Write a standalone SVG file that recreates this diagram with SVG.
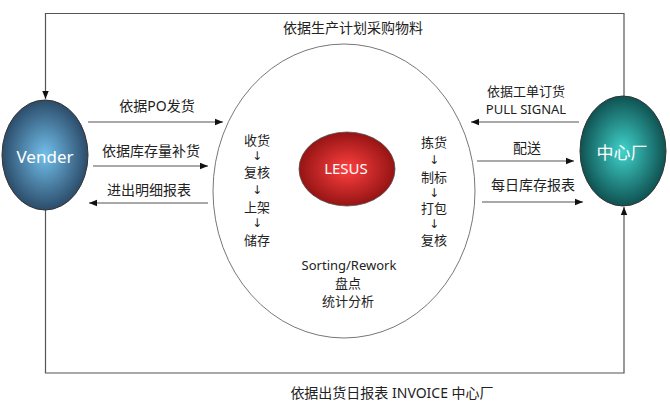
<svg xmlns="http://www.w3.org/2000/svg" width="670" height="406" viewBox="0 0 670 406">
<style>
.t{font-family:"Noto Sans","Noto Sans CJK SC",sans-serif;font-size:14px;fill:#222;text-anchor:middle;dominant-baseline:central}
.s{font-size:13px}
.a{font-family:"DejaVu Sans",sans-serif;font-size:12px;fill:#222}
.w{fill:#fff}
.ln{stroke:#555;stroke-width:1.2;fill:none}
</style>
<defs>
<marker id="ah" viewBox="0 0 10 10" refX="10" refY="5" markerWidth="8" markerHeight="8" markerUnits="userSpaceOnUse" orient="auto">
<path d="M0,1 L10,5 L0,9 Z" fill="#111"/>
</marker>
<radialGradient id="gV" cx="50%" cy="50%" r="50%">
<stop offset="0" stop-color="#72c0ec"/>
<stop offset="1" stop-color="#2c4c6a"/>
</radialGradient>
<radialGradient id="gC" cx="50%" cy="50%" r="50%">
<stop offset="0" stop-color="#40d4cc"/>
<stop offset="1" stop-color="#0f5252"/>
</radialGradient>
<radialGradient id="gL" cx="50%" cy="50%" r="50%">
<stop offset="0" stop-color="#ff4040"/>
<stop offset="1" stop-color="#961414"/>
</radialGradient>
</defs>
<g id="connectors">
<path class="ln" d="M624,96 V13.5 H45.5 V99" marker-end="url(#ah)"/>
<path class="ln" d="M45.5,210 V373 H624 V207" marker-end="url(#ah)"/>
<line class="ln" x1="88" y1="122" x2="223" y2="122" marker-end="url(#ah)"/>
<line class="ln" x1="93" y1="166" x2="208" y2="166" marker-end="url(#ah)"/>
<line class="ln" x1="208" y1="203" x2="89" y2="203" marker-end="url(#ah)"/>
<line class="ln" x1="579" y1="122" x2="471" y2="122" marker-end="url(#ah)"/>
<line class="ln" x1="477" y1="161" x2="574" y2="161" marker-end="url(#ah)"/>
<line class="ln" x1="482" y1="202" x2="583" y2="202" marker-end="url(#ah)"/>
<text class="t" x="353" y="27">依据生产计划采购物料</text>
<text class="t" x="392" y="392">依据出货日报表 INVOICE 中心厂</text>
<text class="t" x="157" y="105">依据PO发货</text>
<text class="t" x="151" y="150">依据库存量补货</text>
<text class="t" x="149" y="189">进出明细报表</text>
<text class="t s" x="526" y="91">依据工单订货</text>
<text class="t s" x="526" y="109">PULL SIGNAL</text>
<text class="t" x="527" y="147">配送</text>
<text class="t" x="533" y="184">每日库存报表</text>
</g>
<g id="lesus-center">
<ellipse cx="344" cy="191" rx="131" ry="147" fill="#fff" stroke="#777" stroke-width="1"/>
<text class="t s" x="257" y="140">收货</text>
<text class="t a" x="257" y="156">↓︎</text>
<text class="t s" x="257" y="172">复核</text>
<text class="t a" x="257" y="190">↓︎</text>
<text class="t s" x="257" y="207">上架</text>
<text class="t a" x="257" y="223">↓︎</text>
<text class="t s" x="257" y="240">储存</text>
<text class="t s" x="434" y="142">拣货</text>
<text class="t a" x="434" y="160">↓︎</text>
<text class="t s" x="434" y="177">制标</text>
<text class="t a" x="434" y="193">↓︎</text>
<text class="t s" x="434" y="208">打包</text>
<text class="t a" x="434" y="224">↓︎</text>
<text class="t s" x="434" y="240">复核</text>
<text class="t s" x="349" y="265">Sorting/Rework</text>
<text class="t s" x="348" y="283">盘点</text>
<text class="t s" x="348" y="301">统计分析</text>
</g>
<g id="lesus">
<ellipse cx="347" cy="169" rx="48" ry="37" fill="url(#gL)" stroke="#555" stroke-width="0.8"/>
<text class="t w" x="346" y="168" style="font-size:15px">LESUS</text>
</g>
<g id="vender">
<ellipse cx="45" cy="155" rx="43" ry="55" fill="url(#gV)" stroke="#333" stroke-width="1"/>
<text class="t w" x="45" y="156" style="font-size:17px">Vender</text>
</g>
<g id="center-factory">
<ellipse cx="623" cy="151" rx="43" ry="55" fill="url(#gC)" stroke="#333" stroke-width="1"/>
<text class="t w" x="622" y="152" style="font-size:17px">中心厂</text>
</g>
</svg>
